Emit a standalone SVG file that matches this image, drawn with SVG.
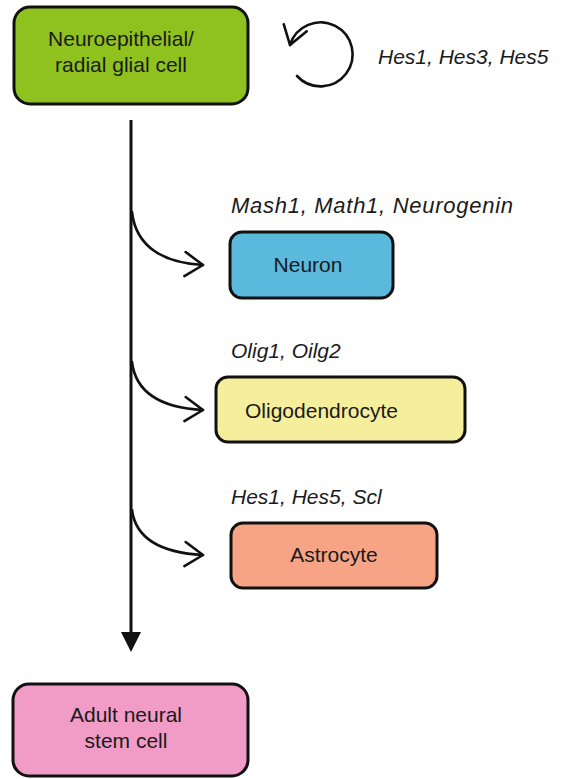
<svg xmlns="http://www.w3.org/2000/svg" width="562" height="779" viewBox="0 0 562 779">
<style>
.box{stroke:#111;stroke-width:3}
.t{font-family:"Liberation Sans",Arial,sans-serif;font-size:21px;fill:#1a1a1a}
.i{font-family:"Liberation Sans",Arial,sans-serif;font-size:21px;font-style:italic;fill:#1a1a1a}
.c{fill:none;stroke:#111;stroke-width:2.6;stroke-linecap:round}
</style>
<defs>
<marker id="open" viewBox="0 0 22 28" refX="20" refY="14" markerWidth="22" markerHeight="28" markerUnits="userSpaceOnUse" orient="auto">
<path d="M2 2 L20 14 L2 26" fill="none" stroke="#111" stroke-width="2.6" stroke-linecap="round" stroke-linejoin="round"/>
</marker>
</defs>
<rect width="562" height="779" fill="#fff"/>
<g id="connectors">
<line x1="131" y1="120" x2="131" y2="634" stroke="#111" stroke-width="3"/>
<path d="M131 632 L141 632 L131 652 L121 632 Z" fill="#111"/>
<path class="c" d="M132 212 C136 248 165 263 203 265" marker-end="url(#open)"/>
<path class="c" d="M132 362 C136 395 165 408 203 410" marker-end="url(#open)"/>
<path class="c" d="M132 510 C136 541 165 553 203 555" marker-end="url(#open)"/>
<path class="c" d="M297 76 A32 32 0 1 0 290 45" marker-end="url(#open)"/>
</g>
<g id="n-radial">
<rect class="box" x="14" y="7" width="234" height="97" rx="16" fill="#8fc21e"/>
<text class="t" x="121" y="46" text-anchor="middle">Neuroepithelial/</text>
<text class="t" x="121" y="72" text-anchor="middle">radial glial cell</text>
</g>
<g id="lbl-self"><text class="i" x="378" y="64">Hes1, Hes3, Hes5</text></g>
<g id="n-neuron">
<text class="i" x="231" y="213" style="font-size:22px" textLength="282" lengthAdjust="spacing">Mash1, Math1, Neurogenin</text>
<rect class="box" x="230" y="232" width="163" height="66" rx="12" fill="#5bb9de"/>
<text class="t" x="308" y="272" text-anchor="middle">Neuron</text>
</g>
<g id="n-oligo">
<text class="i" x="231" y="358">Olig1, Oilg2</text>
<rect class="box" x="216" y="377" width="249" height="65" rx="12" fill="#f5ee9c"/>
<text class="t" x="245" y="418">Oligodendrocyte</text>
</g>
<g id="n-astro">
<text class="i" x="231" y="504">Hes1, Hes5, Scl</text>
<rect class="box" x="231" y="523" width="206" height="65" rx="12" fill="#f6a485"/>
<text class="t" x="334" y="562" text-anchor="middle">Astrocyte</text>
</g>
<g id="n-adult">
<rect class="box" x="13" y="684" width="235" height="92" rx="16" fill="#f19cc6"/>
<text class="t" x="126" y="722" text-anchor="middle">Adult neural</text>
<text class="t" x="126" y="748" text-anchor="middle">stem cell</text>
</g>
</svg>
